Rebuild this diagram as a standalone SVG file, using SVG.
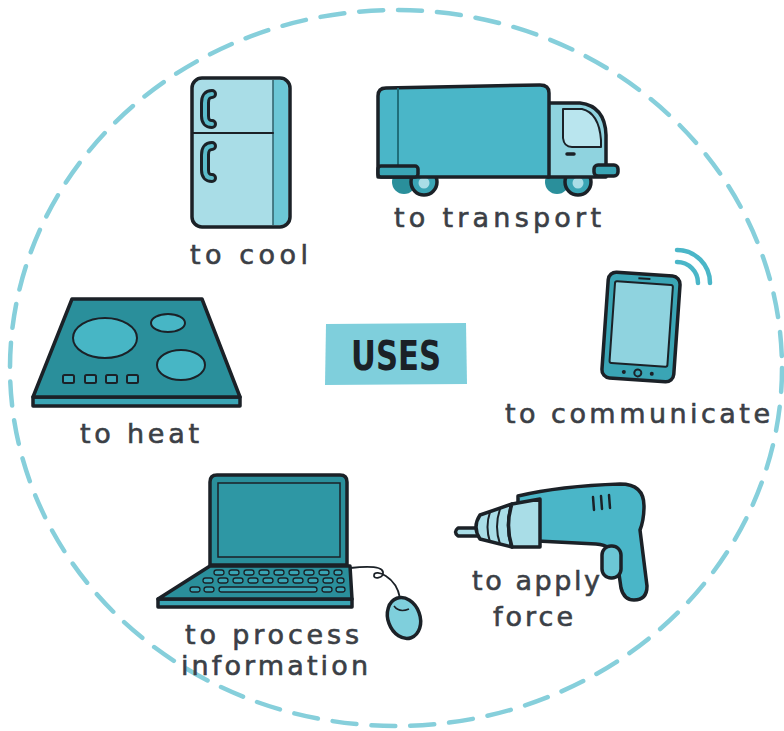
<svg xmlns="http://www.w3.org/2000/svg" width="784" height="731" viewBox="0 0 784 731">
  <style>
    .ink { stroke: #1b2127; stroke-width: 3.5; stroke-linejoin: round; stroke-linecap: round; }
    .thin { stroke: #1b2127; stroke-width: 2; stroke-linejoin: round; stroke-linecap: round; }
    .label { font-family: "DejaVu Sans", "Liberation Sans", sans-serif; font-size: 27px; fill: #3b3f46; stroke: #3b3f46; stroke-width: 0.6; }
    .pale { fill: #a9dde7; }
    .mid { fill: #4ab6c8; }
    .deep { fill: #2a8f9b; }
    .key { fill: #3aa5b5; stroke: #1b2127; stroke-width: 1.3; }
  </style>

  <rect width="784" height="731" fill="#ffffff"/>

  <!-- dashed boundary -->
  <ellipse cx="396" cy="368" rx="386" ry="358" fill="none" stroke="#86cfdb" stroke-width="4.5" stroke-dasharray="24 15" stroke-linecap="round"/>

  <!-- centre title -->
  <g id="uses">
    <path d="M326 324 L466 323 L467 384 L325 385 Z" fill="#7fcfdc"/>
    <text x="396" y="370" text-anchor="middle" font-family="DejaVu Sans, sans-serif" font-weight="bold" font-size="40" fill="#1b2127" textLength="90" lengthAdjust="spacingAndGlyphs">USES</text>
  </g>

  <!-- fridge -->
  <g id="cool">
    <rect x="192" y="78" width="98" height="149" rx="10" class="pale"/>
    <path d="M273 80 H280 Q288 80 288 89 V217 Q288 225 280 225 H273 Z" fill="#6cc7d6"/>
    <line x1="273" y1="80" x2="273" y2="225" stroke="#2f5f69" stroke-width="1.5"/>
    <line x1="193" y1="133" x2="273" y2="133" class="thin" stroke-width="2.5"/>
    <rect x="192" y="78" width="98" height="149" rx="10" fill="none" class="ink"/>
    <path d="M212 94 Q205 94 205 103 V116 Q205 124 212 124" fill="none" stroke="#1b2127" stroke-width="10" stroke-linecap="round"/>
    <path d="M212 94 Q205 94 205 103 V116 Q205 124 212 124" fill="none" stroke="#5bbccb" stroke-width="4" stroke-linecap="round"/>
    <path d="M212 146 Q205 146 205 155 V170 Q205 178 212 178" fill="none" stroke="#1b2127" stroke-width="10" stroke-linecap="round"/>
    <path d="M212 146 Q205 146 205 155 V170 Q205 178 212 178" fill="none" stroke="#5bbccb" stroke-width="4" stroke-linecap="round"/>
    <text x="190" y="264" class="label" textLength="118" lengthAdjust="spacing">to cool</text>
  </g>

  <!-- truck -->
  <g id="transport">
    <circle cx="404" cy="182" r="12" fill="#2a8f9b"/>
    <circle cx="424" cy="182" r="13" fill="#3aa5b5" class="ink"/>
    <circle cx="424" cy="183" r="5.5" class="pale"/>
    <circle cx="557" cy="182" r="12" fill="#2a8f9b"/>
    <circle cx="578" cy="182" r="13" fill="#3aa5b5" class="ink"/>
    <circle cx="578" cy="183" r="5.5" class="pale"/>
    <path d="M548 103 H580 Q605 106 606 135 V177 H548 Z" fill="#8fd3df" class="ink"/>
    <path d="M563 109 H582 Q599 113 601 140 V147 H572 Q564 147 563 138 Z" fill="#b9e5ee" class="thin"/>
    <line x1="567" y1="154" x2="574" y2="154" stroke="#1b2127" stroke-width="3.5" stroke-linecap="round"/>
    <rect x="594" y="165" width="24" height="11" rx="4" fill="#3aa5b5" class="ink"/>
    <path d="M386 88 L540 85 Q549 85 549 93 V177 H378 V96 Q378 88 386 88 Z" class="mid ink"/>
    <line x1="398" y1="88" x2="398" y2="167" stroke="#1f6f7a" stroke-width="2"/>
    <rect x="378" y="166" width="40" height="11" rx="3" fill="#3aa5b5" class="ink"/>
    <text x="394" y="227" class="label" textLength="207" lengthAdjust="spacing">to transport</text>
  </g>

  <!-- hob -->
  <g id="heat">
    <path d="M33 397 L240 397 L240 406 L33 406 Z" fill="#3aa5b5" class="ink"/>
    <path d="M72 299 L202 299 L240 397 L33 397 Z" class="deep ink"/>
    <ellipse cx="105" cy="338" rx="32" ry="20" fill="#47b6c5" class="thin" stroke-width="2.5"/>
    <ellipse cx="168" cy="323" rx="17" ry="9" fill="#47b6c5" class="thin" stroke-width="2.5"/>
    <ellipse cx="181" cy="365" rx="24" ry="15" fill="#47b6c5" class="thin" stroke-width="2.5"/>
    <rect x="63" y="375" width="11" height="8" rx="1.5" fill="#3aa5b5" class="thin"/>
    <rect x="85" y="375" width="11" height="8" rx="1.5" fill="#3aa5b5" class="thin"/>
    <rect x="106" y="375" width="11" height="8" rx="1.5" fill="#3aa5b5" class="thin"/>
    <rect x="127" y="375" width="11" height="8" rx="1.5" fill="#3aa5b5" class="thin"/>
    <text x="80" y="443" class="label" textLength="119" lengthAdjust="spacing">to heat</text>
  </g>

  <!-- phone -->
  <g id="communicate">
    <path d="M677 250 A33 33 0 0 1 710 283" fill="none" stroke="#4ab6c8" stroke-width="4.5" stroke-linecap="round"/>
    <path d="M677 262 A21 21 0 0 1 698 283" fill="none" stroke="#4ab6c8" stroke-width="4.5" stroke-linecap="round"/>
    <g transform="translate(641 327) rotate(4)">
      <rect x="-36" y="-53" width="72" height="106" rx="8" fill="#3aa5b5" class="ink"/>
      <rect x="-29" y="-44" width="58" height="82" rx="2" fill="#8fd3df" class="thin"/>
      <line x1="-6" y1="-48.5" x2="6" y2="-48.5" stroke="#1b2127" stroke-width="2"/>
      <circle cx="-14" cy="46" r="2" fill="#1b2127"/>
      <circle cx="0" cy="46" r="3.5" fill="none" class="thin"/>
      <circle cx="14" cy="46" r="2" fill="#1b2127"/>
    </g>
    <text x="505" y="423" class="label" textLength="265" lengthAdjust="spacing">to communicate</text>
  </g>

  <!-- laptop and mouse -->
  <g id="process">
    <path d="M350 568 C368 566 382 566 383 572 C384 578 373 580 374 575 C375 569 396 576 400 598" fill="none" stroke="#1b2127" stroke-width="1.8"/>
    <ellipse cx="404" cy="618" rx="16" ry="21" transform="rotate(-20 404 618)" fill="#7fcfdc" class="ink"/>
    <path d="M394 606 Q399 613 409 609" fill="none" stroke="#1b2127" stroke-width="1.5"/>
    <path d="M210 565 V482 Q210 475 217 475 H340 Q347 475 347 482 V565 Z" class="deep ink"/>
    <rect x="218" y="483" width="122" height="74" fill="#2e97a4" stroke="#1b2127" stroke-width="1.5"/>
    <path d="M158 599 L352 599 L352 607 L158 607 Z" fill="#3aa5b5" class="ink"/>
    <path d="M210 566 L350 566 L352 599 L158 599 Z" class="deep ink"/>
    <g>
      <rect x="214" y="570" width="10" height="5" rx="2.5" class="key"/>
      <rect x="229" y="570" width="10" height="5" rx="2.5" class="key"/>
      <rect x="244" y="570" width="10" height="5" rx="2.5" class="key"/>
      <rect x="259" y="570" width="10" height="5" rx="2.5" class="key"/>
      <rect x="274" y="570" width="10" height="5" rx="2.5" class="key"/>
      <rect x="289" y="570" width="10" height="5" rx="2.5" class="key"/>
      <rect x="304" y="570" width="10" height="5" rx="2.5" class="key"/>
      <rect x="319" y="570" width="10" height="5" rx="2.5" class="key"/>
      <rect x="334" y="570" width="8" height="5" rx="2.5" class="key"/>
      <rect x="203" y="578" width="10" height="5" rx="2.5" class="key"/>
      <rect x="218" y="578" width="10" height="5" rx="2.5" class="key"/>
      <rect x="233" y="578" width="10" height="5" rx="2.5" class="key"/>
      <rect x="248" y="578" width="10" height="5" rx="2.5" class="key"/>
      <rect x="263" y="578" width="10" height="5" rx="2.5" class="key"/>
      <rect x="278" y="578" width="10" height="5" rx="2.5" class="key"/>
      <rect x="293" y="578" width="10" height="5" rx="2.5" class="key"/>
      <rect x="308" y="578" width="10" height="5" rx="2.5" class="key"/>
      <rect x="323" y="578" width="10" height="5" rx="2.5" class="key"/>
      <rect x="337" y="578" width="7" height="5" rx="2.5" class="key"/>
      <rect x="190" y="587" width="10" height="5" rx="2.5" class="key"/>
      <rect x="204" y="587" width="10" height="5" rx="2.5" class="key"/>
      <rect x="219" y="587" width="98" height="5" rx="2.5" class="key"/>
      <rect x="322" y="587" width="10" height="5" rx="2.5" class="key"/>
      <rect x="336" y="587" width="9" height="5" rx="2.5" class="key"/>
    </g>
    <text x="185" y="644" class="label" textLength="174" lengthAdjust="spacing">to process</text>
    <text x="181" y="675" class="label" textLength="187" lengthAdjust="spacing">information</text>
  </g>

  <!-- drill -->
  <g id="force">
    <path d="M518 496 Q560 486 620 484 Q644 484 644 506 Q644 520 640 530 L647 586 Q647 600 634 600 Q624 600 621 588 L617 560 Q613 545 596 544 L518 540 Z" class="mid ink"/>
    <rect x="602" y="546" width="19" height="32" rx="9" fill="#6cc7d6" class="ink"/>
    <line x1="593" y1="497" x2="594" y2="510" stroke="#1b2127" stroke-width="2.5" stroke-linecap="round"/>
    <line x1="601" y1="496" x2="602" y2="509" stroke="#1b2127" stroke-width="2.5" stroke-linecap="round"/>
    <line x1="609" y1="495" x2="610" y2="508" stroke="#1b2127" stroke-width="2.5" stroke-linecap="round"/>
    <path d="M458 528 H478 V536 H458 Q453 532 458 528 Z" class="pale ink" stroke-width="3"/>
    <path d="M512 504 L480 515 Q472 527 480 539 L512 547 Q505 525 512 504 Z" class="pale ink"/>
    <path d="M490 512 Q485 527 490 542" fill="none" class="thin"/>
    <path d="M500 509 Q494 527 500 544" fill="none" class="thin"/>
    <path d="M540 499 L512 504 Q505 525 512 547 L540 547 Z" class="pale ink"/>
    <text x="472" y="590" class="label" textLength="128" lengthAdjust="spacing">to apply</text>
    <text x="493" y="626" class="label" textLength="80" lengthAdjust="spacing">force</text>
  </g>
</svg>
